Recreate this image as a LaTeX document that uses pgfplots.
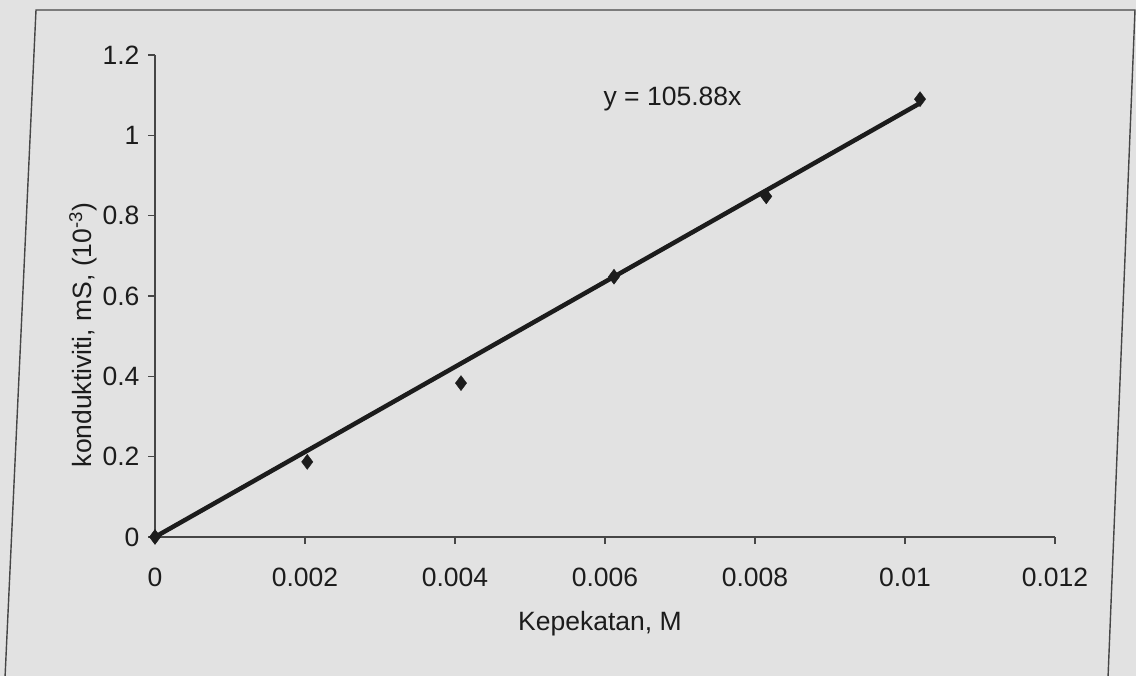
\documentclass[border=0pt]{standalone}
\usepackage{pgfplots}
\pgfplotsset{compat=1.18}
\usepackage{fontspec}
\setmainfont{Liberation Sans}
\definecolor{paper}{RGB}{226,226,226}
\definecolor{ink}{RGB}{28,28,28}
\definecolor{rule}{RGB}{70,70,70}

% measured conductivity against concentration
\pgfplotstableread{
x        y
0        0
0.00203  0.187
0.00408  0.383
0.00612  0.648
0.00815  0.848
0.0102   1.090
}\conductivity

% fitted line through the origin, y = 105.88x
\pgfplotstableread{
x        y
0        0
0.0102   1.0800
}\fitline

\newcommand{\chartfont}{\fontsize{26.5}{30}\selectfont}

\begin{document}
\begin{tikzpicture}
  \fill[paper] (0pt,0pt) rectangle (1136pt,676pt);
  \useasboundingbox (0pt,0pt) rectangle (1136pt,676pt);
  % chart area border
  \draw[rule, line width=1.4pt] (5pt,-2pt) -- (36pt,666pt) -- (1135pt,666pt) -- (1108pt,-2pt);

  \begin{axis}[
    at={(155pt,139pt)}, anchor=south west,
    scale only axis, width=900pt, height=482pt,
    xmin=0, xmax=0.012, ymin=0, ymax=1.2,
    axis x line*=bottom, axis y line*=left,
    axis line style={rule, line width=1.3pt},
    xtick={0,0.002,0.004,0.006,0.008,0.010,0.012},
    xticklabels={0,0.002,0.004,0.006,0.008,0.01,0.012},
    ytick={0,0.2,0.4,0.6,0.8,1.0,1.2},
    yticklabels={0,0.2,0.4,0.6,0.8,1,1.2},
    scaled x ticks=false,
    tick align=outside, major tick length=7pt,
    tick style={rule, line width=1.1pt},
    ticklabel style={font=\chartfont, text=ink},
    xticklabel style={yshift=-20pt},
    yticklabel style={xshift=-5pt},
    clip=false,
  ]
    \addplot[ink, line width=4.5pt] table {\fitline};
    \addplot[only marks, mark=diamond*, mark size=7.5pt, mark options={fill=ink, draw=ink}] table {\conductivity};
    \node[font=\chartfont, text=ink] at (axis cs:0.0069,1.09) {y = 105.88x};
  \end{axis}

  \node[font=\chartfont, text=ink] at (600pt,52pt) {Kepekatan, M};
  \node[font=\chartfont, text=ink, rotate=90] at (83pt,341pt) {konduktiviti, mS, (10\textsuperscript{-3})};
\end{tikzpicture}
\end{document}
